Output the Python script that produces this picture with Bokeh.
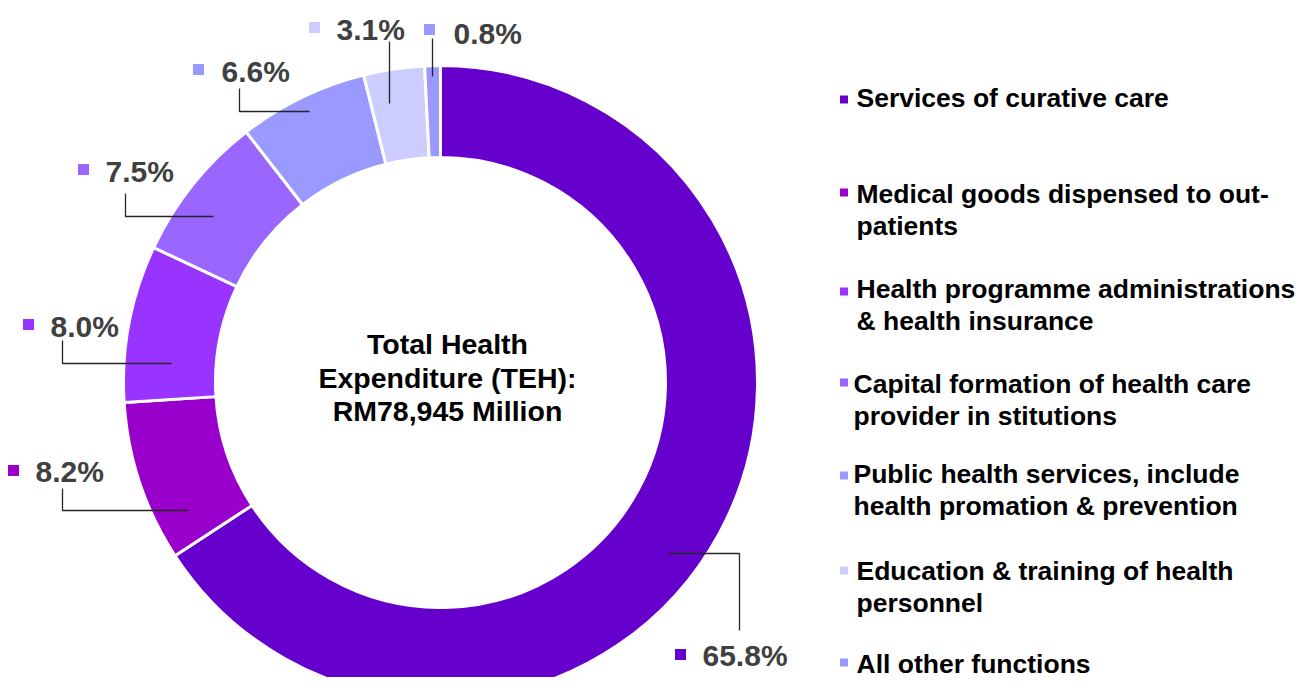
import math
from bokeh.plotting import figure
from bokeh.models import Range1d, ColumnDataSource
from bokeh.core.properties import value
from bokeh.embed import file_html
from bokeh.resources import INLINE

# ---- data ----
categories = [
    "Services of curative care",
    "Medical goods dispensed to out-\npatients",
    "Health programme administrations\n& health insurance",
    "Capital formation of health care\nprovider in stitutions",
    "Public health services, include\nhealth promation & prevention",
    "Education & training of health\npersonnel",
    "All other functions",
]
shares = [65.8, 8.2, 8.0, 7.5, 6.6, 3.1, 0.8]
colors = ["#6600CC", "#9900CC", "#9933FF", "#9966FF", "#9999FF", "#CCCCFF", "#9999FF"]
center_title = ["Total Health", "Expenditure (TEH):", "RM78,945 Million"]
pct_labels = [f"{v:.1f}%" for v in shares]

# ---- layout (screen px; converted to plot coords) ----
W, H = 1295, 677
def Y(sy):
    return 693 - sy

cx, cy = 440, Y(382)
r_in, r_out = 225, 317

p = figure(width=W, height=H, output_backend="svg", toolbar_location=None,
           x_range=Range1d(0, W), y_range=Range1d(693 - H, 693),
           min_border=0, outline_line_color=None, background_fill_color="white",
           border_fill_color="white")
p.axis.visible = False
p.grid.visible = False

total = sum(shares)
starts, ends = [], []
acc = 0.0
for v in shares:
    starts.append(math.radians(90 - 360 * acc / total))
    acc += v
    ends.append(math.radians(90 - 360 * acc / total))

src = ColumnDataSource(dict(start=starts, end=ends, color=colors))
p.annular_wedge(x=cx, y=cy, inner_radius=r_in, outer_radius=r_out,
                start_angle="start", end_angle="end", direction="clock",
                fill_color="color", line_color="white", line_width=3, source=src)

# centre text
p.text(x=[447] * 3, y=[Y(343), Y(377), Y(410)], text=center_title,
       text_align="center", text_baseline="middle",
       text_font=value("Liberation Sans"), text_font_style="bold",
       text_font_size="28.5px", text_color="#000000")

# percentage labels: marker centre, text left x, text centre y (screen)
lab_marker_x = [680, 13, 28, 83, 198, 314, 429]
lab_marker_y = [654, 470, 324, 169, 69, 27, 29]
lab_text_x = [702, 35, 50, 105, 221, 336, 453]
lab_text_y = [655, 471, 326, 171, 71, 29, 33]
leaders = [
    ([668, 739, 739], [553, 553, 630]),
    ([62, 62, 188], [488, 510, 510]),
    ([62, 62, 171], [340, 363, 363]),
    ([125, 125, 213], [193, 216, 216]),
    ([239, 239, 309], [88, 111, 111]),
    ([389, 389], [41, 103]),
    ([432, 432], [38, 76]),
]
p.multi_line(xs=[l[0] for l in leaders], ys=[[Y(v) for v in l[1]] for l in leaders],
             line_color="#262626", line_width=1.3)
p.scatter(x=lab_marker_x, y=[Y(v) for v in lab_marker_y], marker="square", size=11,
          fill_color=colors, line_color=None)
p.text(x=lab_text_x, y=[Y(v) for v in lab_text_y], text=pct_labels,
       text_align="left", text_baseline="middle",
       text_font=value("Liberation Sans"), text_font_style="bold",
       text_font_size="30px", text_color="#404040")

# legend
leg_text_x = [856, 856, 856, 853, 853, 856, 856]
leg_line1_y = [97, 193, 288, 383, 473, 570, 663]
leg_marker_y = [99, 192, 291, 382, 475, 570, 662]
line_gap = 32
lx, ly, lt = [], [], []
for i, lab in enumerate(categories):
    for j, part in enumerate(lab.split("\n")):
        lx.append(leg_text_x[i])
        ly.append(Y(leg_line1_y[i] + j * line_gap))
        lt.append(part)
p.text(x=lx, y=ly, text=lt, text_align="left", text_baseline="middle",
       text_font=value("Liberation Sans"), text_font_style="bold",
       text_font_size="26.5px", text_color="#000000")
p.scatter(x=[843.5] * len(categories), y=[Y(v) for v in leg_marker_y], marker="square",
          size=8, fill_color=colors, line_color=None)

open("out.html", "w").write(file_html(p, INLINE))
